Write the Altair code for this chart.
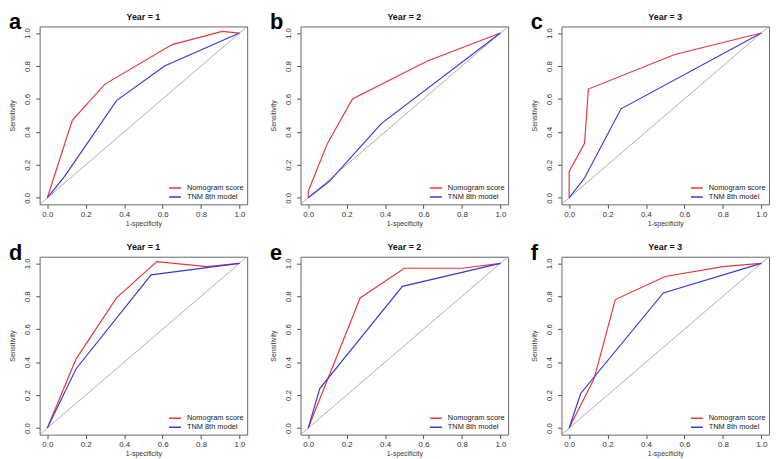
import altair as alt
import pandas as pd

# ---- data ----
panel_letters = ["a", "b", "c", "d", "e", "f"]
panel_titles = ["Year = 1", "Year = 2", "Year = 3", "Year = 1", "Year = 2", "Year = 3"]
models = ["Nomogram score", "TNM 8th model"]

nomo_fpr = [
    [0.0, 0.13, 0.30, 0.65, 0.91, 1.0],
    [0.0, 0.0, 0.10, 0.23, 0.62, 1.0],
    [0.0, 0.0, 0.08, 0.10, 0.55, 1.0],
    [0.0, 0.15, 0.36, 0.57, 0.83, 1.0],
    [0.0, 0.27, 0.50, 0.80, 1.0],
    [0.0, 0.13, 0.24, 0.50, 0.80, 1.0],
]
nomo_tpr = [
    [0.0, 0.47, 0.69, 0.93, 1.01, 1.0],
    [0.0, 0.04, 0.33, 0.60, 0.83, 1.0],
    [0.0, 0.16, 0.33, 0.66, 0.87, 1.0],
    [0.0, 0.42, 0.79, 1.01, 0.98, 1.0],
    [0.0, 0.79, 0.97, 0.97, 1.0],
    [0.0, 0.30, 0.78, 0.92, 0.98, 1.0],
]
tnm_fpr = [
    [0.0, 0.09, 0.36, 0.61, 1.0],
    [0.0, 0.11, 0.38, 1.0],
    [0.0, 0.08, 0.27, 1.0],
    [0.0, 0.15, 0.54, 1.0],
    [0.0, 0.06, 0.49, 1.0],
    [0.0, 0.06, 0.49, 1.0],
]
tnm_tpr = [
    [0.0, 0.13, 0.59, 0.80, 1.0],
    [0.0, 0.10, 0.45, 1.0],
    [0.0, 0.12, 0.54, 1.0],
    [0.0, 0.36, 0.93, 1.0],
    [0.0, 0.24, 0.86, 1.0],
    [0.0, 0.21, 0.82, 1.0],
]
axis_ticks = [0.0, 0.2, 0.4, 0.6, 0.8, 1.0]
axis_domain = [-0.04, 1.04]
diag = pd.DataFrame({"x": axis_domain, "y": axis_domain})

RED = "#e8383c"
BLUE = "#3a3ad8"
FONT = "Liberation Sans"
W, H = 210, 180


def panel(i):
    rows = []
    for k, (fx, fy) in enumerate(zip(nomo_fpr[i], nomo_tpr[i])):
        rows.append({"model": models[0], "fpr": fx, "tpr": fy, "o": k})
    for k, (fx, fy) in enumerate(zip(tnm_fpr[i], tnm_tpr[i])):
        rows.append({"model": models[1], "fpr": fx, "tpr": fy, "o": k})
    df = pd.DataFrame(rows)

    xs = alt.Scale(domain=axis_domain, nice=False, zero=False)
    ys = alt.Scale(domain=axis_domain, nice=False, zero=False)
    xaxis = alt.Axis(values=axis_ticks, format=".1f", title="1-specificity", grid=False,
                     domain=False, tickColor="#555", tickSize=4, labelFontSize=8,
                     labelColor="#333", labelPadding=2, titleFontSize=7,
                     titleFontWeight="normal", titleColor="#333", titlePadding=1,
                     labelFont=FONT, titleFont=FONT)
    yaxis = alt.Axis(values=axis_ticks, format=".1f", title="Sensitivity", grid=False,
                     domain=False, tickColor="#555", tickSize=4, labelFontSize=8,
                     labelColor="#333", labelPadding=4, labelAngle=270,
                     labelAlign="center", labelBaseline="bottom", titleFontSize=7,
                     titleFontWeight="normal", titleColor="#333", titlePadding=8,
                     labelFont=FONT, titleFont=FONT)

    d = alt.Chart(diag).mark_line(color="#999", strokeWidth=0.8, clip=True).encode(
        x=alt.X("x:Q", scale=xs, axis=xaxis),
        y=alt.Y("y:Q", scale=ys, axis=yaxis),
    )
    lines = alt.Chart(df).mark_line(strokeWidth=1.2, clip=True).encode(
        x=alt.X("fpr:Q", scale=xs, axis=xaxis),
        y=alt.Y("tpr:Q", scale=ys, axis=yaxis),
        color=alt.Color("model:N", scale=alt.Scale(domain=models, range=[RED, BLUE]),
                        sort=models,
                        legend=alt.Legend(title=None, orient="bottom-right", offset=3,
                                          symbolType="stroke", symbolSize=144,
                                          symbolStrokeWidth=1.5, labelFontSize=7.5,
                                          labelFont=FONT, labelColor="#222",
                                          rowPadding=0, clipHeight=9, labelOffset=5,
                                          padding=0)),
        order="o:Q",
    )
    letter = alt.Chart(pd.DataFrame({"t": [panel_letters[i]]})).mark_text(
        fontSize=22, fontWeight="bold", font=FONT, align="left", baseline="alphabetic",
        color="black"
    ).encode(x=alt.value(-31), y=alt.value(3), text="t:N")
    title = alt.Chart(pd.DataFrame({"t": [panel_titles[i]]})).mark_text(
        fontSize=9, fontWeight="bold", font=FONT, align="center", baseline="middle",
        color="#111"
    ).encode(x=alt.value(W / 2), y=alt.value(-10), text="t:N")

    return alt.layer(d, lines, letter, title).properties(width=W, height=H)


def row(idx):
    return alt.hconcat(*[panel(i) for i in idx], spacing=21).resolve_scale(
        color="independent"
    ).resolve_legend(color="independent")


chart = alt.vconcat(row([0, 1, 2]), row([3, 4, 5]), spacing=14).resolve_scale(
    color="independent"
).resolve_legend(color="independent").configure(padding=0).configure_view(
    stroke="#666", strokeWidth=1
)

chart.save("out.html", embed_options={"renderer": "svg", "actions": False})
